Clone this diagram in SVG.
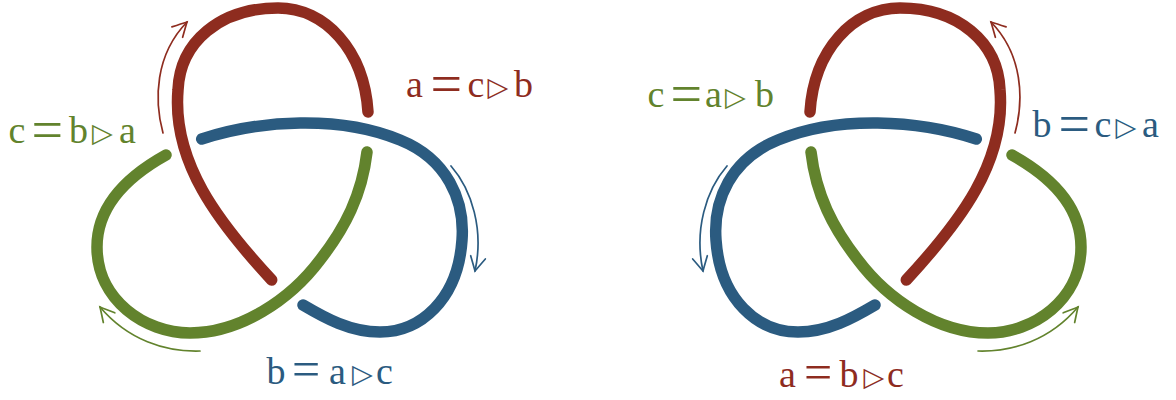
<svg xmlns="http://www.w3.org/2000/svg" width="1176" height="400" viewBox="0 0 1176 400">
<style>
.s{fill:none;stroke-width:11.5;stroke-linecap:round}
.ar{fill:none;stroke-width:1.7;stroke-linecap:round}
.red{stroke:#8E2C1F}.blue{stroke:#2B5B80}.green{stroke:#62832D}
.lbl{font-family:'Liberation Serif','Times New Roman',serif;font-size:38px}
.eq{font-size:56px}
.eqb{font-size:50px}
.tri{font-family:'DejaVu Sans',sans-serif;font-size:27px}
</style>
<defs>
<marker id="hR" markerUnits="userSpaceOnUse" orient="auto" refX="0" refY="0" markerWidth="20" markerHeight="20" overflow="visible"><path d="M -14,-7.5 Q -5,-2.6 0,0 Q -5,2.6 -14,7.5" fill="none" stroke="#8E2C1F" stroke-width="1.7" stroke-linecap="round"/></marker>
<marker id="hB" markerUnits="userSpaceOnUse" orient="auto" refX="0" refY="0" markerWidth="20" markerHeight="20" overflow="visible"><path d="M -14,-7.5 Q -5,-2.6 0,0 Q -5,2.6 -14,7.5" fill="none" stroke="#2B5B80" stroke-width="1.7" stroke-linecap="round"/></marker>
<marker id="hG" markerUnits="userSpaceOnUse" orient="auto" refX="0" refY="0" markerWidth="20" markerHeight="20" overflow="visible"><path d="M -14,-7.5 Q -5,-2.6 0,0 Q -5,2.6 -14,7.5" fill="none" stroke="#62832D" stroke-width="1.7" stroke-linecap="round"/></marker>
</defs>
<g id="knot-left">
<path class="s red" d="M 271.7,280 C 218,222 172,162 178,90 C 180,42 220,8 278,8 C 325,8 364,50 368,112"/>
<path class="s blue" d="M 201.7,139 C 260,120 340,115 400,140 C 447,159 465,200 462,240 C 458,300 420,332 380,332 C 350,332 325,318 303,305"/>
<path class="s green" d="M 166,155 C 130,175 97,205 97,247 C 97,300 145,333 190,333 C 240,333 290,300 320,260 C 345,228 362,195 367,152"/>
<path class="ar red" d="M 163,133 C 154,100 155,55 187,22" marker-end="url(#hR)"/>
<path class="ar blue" d="M 451,166 C 472,190 484,230 475,271" marker-end="url(#hB)"/>
<path class="ar green" d="M 200,351 C 165,352 128,340 100,307" marker-end="url(#hG)"/>
</g>
<g id="knot-right" transform="matrix(-1,0,0,1,1178,0)">
<path class="s red" d="M 271.7,280 C 218,222 172,162 178,90 C 180,42 220,8 278,8 C 325,8 364,50 368,112"/>
<path class="s blue" d="M 201.7,139 C 260,120 340,115 400,140 C 447,159 465,200 462,240 C 458,300 420,332 380,332 C 350,332 325,318 303,305"/>
<path class="s green" d="M 166,155 C 130,175 97,205 97,247 C 97,300 145,333 190,333 C 240,333 290,300 320,260 C 345,228 362,195 367,152"/>
<path class="ar red" d="M 163,133 C 154,100 155,55 187,22" marker-end="url(#hR)"/>
<path class="ar blue" d="M 451,166 C 472,190 484,230 475,271" marker-end="url(#hB)"/>
<path class="ar green" d="M 200,351 C 165,352 128,340 100,307" marker-end="url(#hG)"/>
</g>
<g id="labels">
<text class="lbl" fill="#62832D" y="143"><tspan x="8.5">c</tspan><tspan class="eq" x="31.5" dy="6">=</tspan><tspan x="69" dy="-6">b</tspan><tspan class="tri" x="92" dy="-1">▷</tspan><tspan x="119" dy="1">a</tspan></text>
<text class="lbl" fill="#8E2C1F" y="97"><tspan x="406">a</tspan><tspan class="eq" x="430.5" dy="6">=</tspan><tspan x="467.5" dy="-6">c</tspan><tspan class="tri" x="487.5" dy="-1">▷</tspan><tspan x="514" dy="1">b</tspan></text>
<text class="lbl" fill="#2B5B80" y="384"><tspan x="266.5">b</tspan><tspan class="eqb" x="292" dy="2">=</tspan><tspan x="329" dy="-2">a</tspan><tspan class="tri" x="352" dy="-1">▷</tspan><tspan x="376" dy="1">c</tspan></text>
<text class="lbl" fill="#62832D" y="107"><tspan x="647.5">c</tspan><tspan class="eq" x="670.5" dy="6">=</tspan><tspan x="705" dy="-6">a</tspan><tspan class="tri" x="725" dy="-1">▷</tspan><tspan x="755" dy="1">b</tspan></text>
<text class="lbl" fill="#2B5B80" y="137"><tspan x="1032.5">b</tspan><tspan class="eq" x="1058.5" dy="6">=</tspan><tspan x="1094.5" dy="-6">c</tspan><tspan class="tri" x="1115.5" dy="-1">▷</tspan><tspan x="1142" dy="1">a</tspan></text>
<text class="lbl" fill="#8E2C1F" y="387"><tspan x="779">a</tspan><tspan class="eqb" x="804" dy="2">=</tspan><tspan x="839.5" dy="-2">b</tspan><tspan class="tri" x="863.5" dy="-1">▷</tspan><tspan x="887" dy="1">c</tspan></text>
</g>
</svg>
